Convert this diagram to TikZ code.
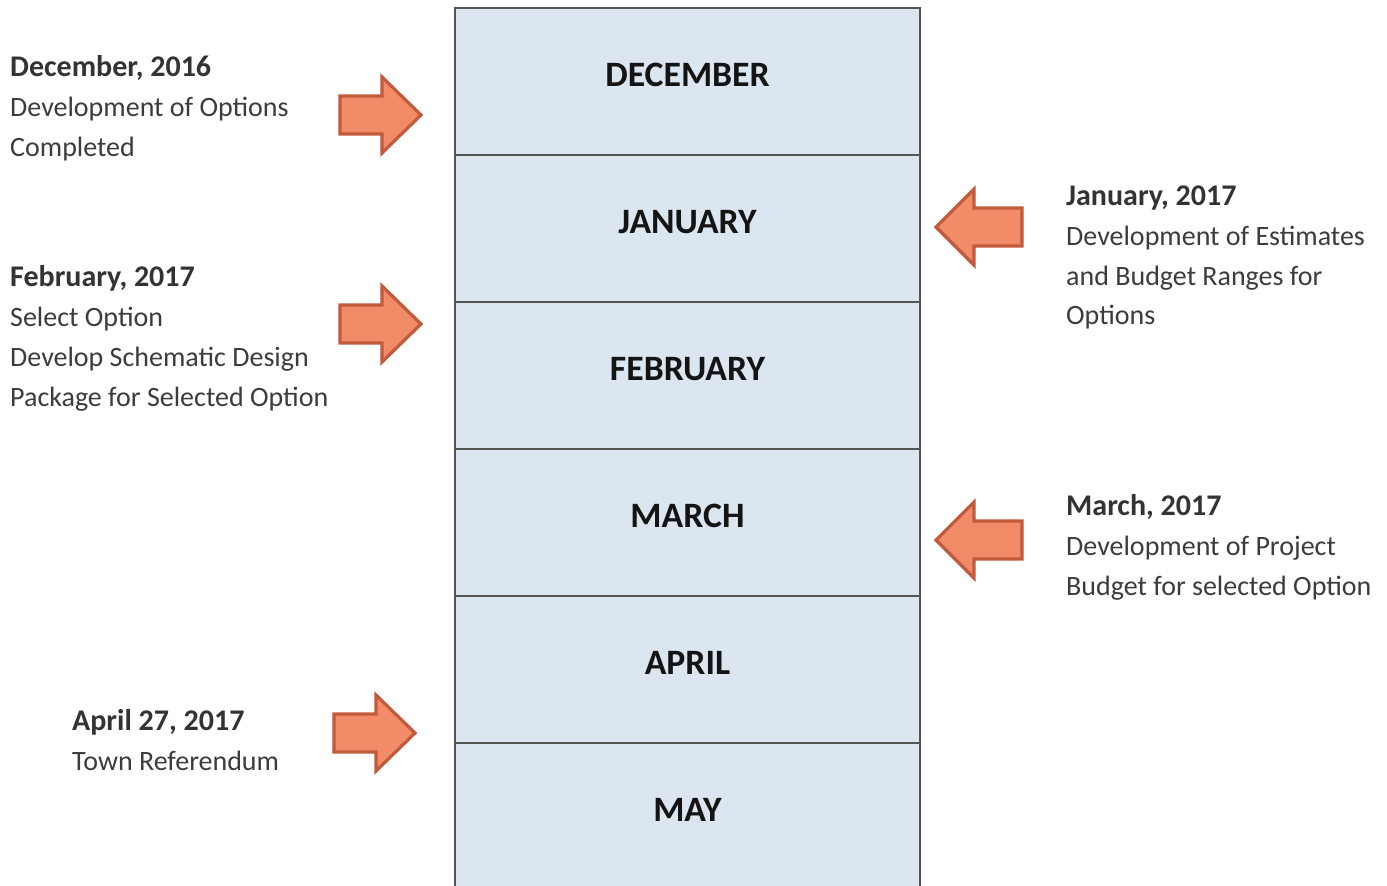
\documentclass[tikz,border=0pt]{standalone}
\usepackage{fontspec}
\setmainfont{Carlito}
\definecolor{boxfill}{HTML}{DCE6F1}
\definecolor{boxline}{HTML}{555555}
\definecolor{arrfill}{HTML}{F28B67}
\definecolor{arrline}{HTML}{C25A3C}
\definecolor{titlecol}{HTML}{333333}
\definecolor{bodycol}{HTML}{3C3C3C}
\tikzset{
  monthbox/.style={draw=boxline, line width=2pt, fill=boxfill, minimum width=465pt, minimum height=147pt, inner sep=0pt},
  mlabel/.style={anchor=base, inner sep=0pt, font=\fontsize{35.7}{40}\selectfont\bfseries, text=black!92},
  ttl/.style={anchor=base west, inner sep=0pt, font=\fontsize{30}{40}\selectfont\bfseries, text=titlecol},
  bdy/.style={anchor=base west, inner sep=0pt, font=\fontsize{28}{40}\selectfont, text=bodycol},
  blockarrow/.style={draw=arrline, line width=3.2pt, fill=arrfill, line join=miter},
  rarr/.pic={\path[blockarrow] (0,0) -- (-39,-38) -- (-39,-19) -- (-81,-19) -- (-81,19) -- (-39,19) -- (-39,38) -- cycle;},
  larr/.pic={\path[blockarrow] (0,0) -- (38,-38) -- (38,-19) -- (86,-19) -- (86,19) -- (38,19) -- (38,38) -- cycle;}
}
\begin{document}
\begin{tikzpicture}[x=1pt, y=-1pt]
\useasboundingbox (0,0) rectangle (1387,886);
\clip (0,0) rectangle (1387,886);
\fill[white] (0,0) rectangle (1387,886);
% month column
\node[monthbox] (dec) at (687.5,81.5) {};
\node[monthbox] (jan) at (687.5,228.5) {};
\node[monthbox] (feb) at (687.5,375.5) {};
\node[monthbox] (mar) at (687.5,522.5) {};
\node[monthbox] (apr) at (687.5,669.5) {};
\node[monthbox] (may) at (687.5,816.5) {};
\node[mlabel] (decl) at ([yshift=-5pt]dec.center) {DECEMBER};
\node[mlabel] (janl) at ([yshift=-4.5pt]jan.center) {JANUARY};
\node[mlabel] (febl) at ([yshift=-4.5pt]feb.center) {FEBRUARY};
\node[mlabel] (marl) at ([yshift=-4.5pt]mar.center) {MARCH};
\node[mlabel] (aprl) at ([yshift=-4.5pt]apr.center) {APRIL};
\node[mlabel] (mayl) at ([yshift=-4.5pt]may.center) {MAY};
% arrows
\pic at (421,115) {rarr};
\pic at (421,324) {rarr};
\pic at (415,733) {rarr};
\pic at (936,227) {larr};
\pic at (936,540) {larr};
% left texts
\node[ttl] (t1) at (10,76) {December, 2016};
\node[bdy] (t1a) at (10,116) {Development of Options};
\node[bdy] (t1b) at (10,156) {Completed};
\node[ttl] (t2) at (10,286) {February, 2017};
\node[bdy] (t2a) at (10,326) {Select Option};
\node[bdy] (t2b) at (10,366) {Develop Schematic Design};
\node[bdy] (t2c) at (10,406) {Package for Selected Option};
\node[ttl] (t3) at (72,730) {April 27, 2017};
\node[bdy] (t3a) at (72,770) {Town Referendum};
% right texts
\node[ttl] (r1) at (1066,205) {January, 2017};
\node[bdy] (r1a) at (1066,245) {Development of Estimates};
\node[bdy] (r1b) at (1066,285) {and Budget Ranges for};
\node[bdy] (r1c) at (1066,324) {Options};
\node[ttl] (r2) at (1066,515) {March, 2017};
\node[bdy] (r2a) at (1066,555) {Development of Project};
\node[bdy] (r2b) at (1066,595) {Budget for selected Option};
\end{tikzpicture}
\end{document}
